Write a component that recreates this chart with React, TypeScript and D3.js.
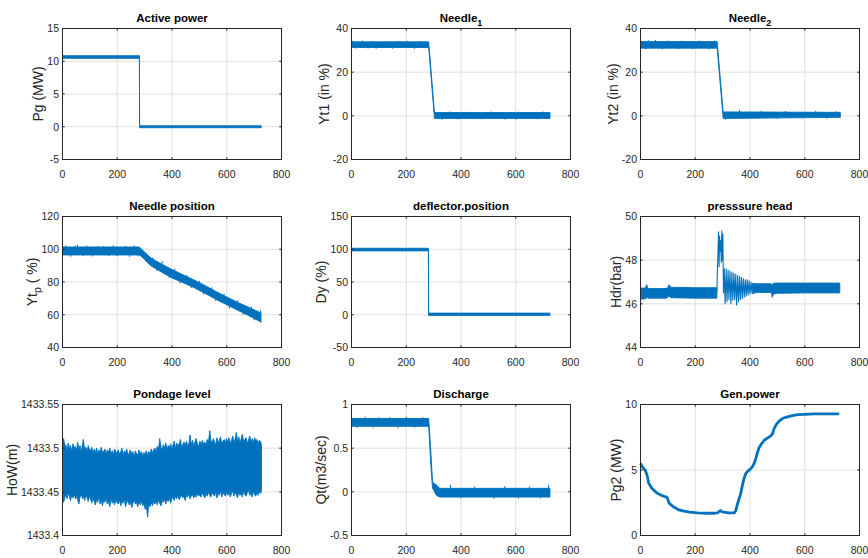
import React from 'react';
import * as d3 from 'd3';

const BLUE = '#0072BD';
const timeTicks = [0, 200, 400, 600, 800];

// Active power (MW)
const pgT = [0, 281, 281.6, 726];
const pgHi = [10.85, 10.85, 0.15, 0.15];
const pgLo = [10.45, 10.45, -0.15, -0.15];

// Needle 1 (%)
const yt1T = [0, 282, 303, 725];
const yt1Hi = [33.9, 33.9, 1.5, 1.5];
const yt1Lo = [31.3, 31.3, -1.2, -1.2];
const yt1UpT = [3, 40, 75, 120, 170, 205, 250, 360, 420, 510, 610, 700];
const yt1UpV = [34.4, 34.5, 34.3, 34.3, 34.4, 34.4, 34.3, 2.0, 1.9, 2.0, 1.9, 2.0];
const yt1DnT = [15, 60, 90, 150, 230, 270, 330, 390, 470, 560, 600, 680];
const yt1DnV = [30.8, 30.9, 30.7, 30.8, 30.7, 30.9, -1.8, -1.7, -1.6, -1.7, -1.7, -1.6];

// Needle 2 (%)
const yt2T = [0, 280, 302, 725, 730];
const yt2Hi = [34.0, 34.0, 1.8, 1.6, 1.6];
const yt2Lo = [31.0, 31.0, -1.2, -0.7, -0.7];
const yt2UpT = [30, 55, 100, 150, 215, 270, 362, 440, 530, 640, 715];
const yt2UpV = [34.6, 34.8, 34.5, 34.4, 34.5, 34.5, 2.8, 2.3, 2.2, 2.3, 2.1];
const yt2DnT = [20, 80, 140, 190, 250, 310, 380, 500, 590, 680];
const yt2DnV = [30.5, 30.4, 30.6, 30.5, 30.4, -1.8, -1.4, -1.4, -1.2, -1.3];

// Needle position (%)
const ytpT = [0, 280, 290, 321, 360, 400, 440, 479, 520, 564, 600, 642, 680, 721, 725];
const ytpHi = [101.4, 101.4, 99.9, 94.9, 91.1, 87.6, 84.4, 81.4, 77.9, 73.9, 70.9, 67.4, 64.6, 61.4, 61.6];
const ytpLo = [96.5, 96.5, 95.4, 90.1, 86.2, 82.5, 79.6, 76.7, 73.1, 69.1, 66.1, 62.6, 59.5, 55.9, 55.9];
const ytpUpT = [12, 48, 55, 88, 130, 150, 185, 230, 262, 330, 364, 410, 455, 500, 545, 590, 640, 690, 724];
const ytpUpV = [102.3, 102.0, 102.8, 102.2, 101.9, 102.0, 102.4, 102.1, 102.3, 95.0, 92.8, 88.0, 84.3, 80.8, 76.7, 72.9, 68.8, 65.0, 62.8];
const ytpDnT = [30, 75, 110, 170, 200, 245, 275, 345, 390, 430, 470, 515, 560, 610, 660, 700, 726];
const ytpDnV = [95.5, 95.8, 95.6, 95.9, 95.8, 95.4, 95.7, 86.6, 82.3, 79.2, 76.2, 72.4, 68.3, 64.0, 60.0, 56.6, 55.2];

// Deflector position (%)
const dyT = [0, 281, 281.6, 725];
const dyHi = [101.5, 101.5, 2.5, 2.5];
const dyLo = [97.5, 97.5, -1, -1];

// Pressure head (bar)
const hdrAT = [0, 18, 22, 28, 95, 100, 104, 110, 200, 279];
const hdrAHi = [46.72, 46.72, 46.88, 46.7, 46.7, 46.75, 46.88, 46.76, 46.74, 46.74];
const hdrALo = [46.22, 46.22, 46.3, 46.26, 46.26, 46.3, 46.35, 46.28, 46.26, 46.26];
const hdrOscT = [279, 281, 283, 285, 287, 289, 291, 293, 295, 297, 299, 301, 303, 306, 309, 313, 316, 320, 323, 327, 330, 334, 337, 341, 344, 348, 351, 355, 358, 362, 365, 369, 372, 376, 379, 383, 386, 390, 393, 397, 400, 404, 407, 411];
const hdrOscV = [46.5, 47.6, 48.3, 49.3, 47.7, 49.1, 48.4, 48.9, 47.9, 49.35, 48.0, 49.2, 46.5, 47.6, 46.0, 47.6, 46.1, 47.55, 46.2, 47.5, 46.0, 47.45, 46.15, 47.4, 46.2, 47.35, 45.95, 47.3, 46.1, 47.25, 46.2, 47.2, 46.25, 47.15, 46.3, 47.1, 46.35, 47.1, 46.4, 47.05, 46.45, 47.0, 46.5, 46.9];
const hdrBT = [410, 420, 478, 481, 486, 500, 600, 728];
const hdrBHi = [46.95, 46.92, 46.92, 46.85, 46.95, 46.95, 46.95, 46.95];
const hdrBLo = [46.45, 46.52, 46.52, 46.3, 46.45, 46.48, 46.5, 46.5];

// Pondage level (m): upper and lower envelope of the noisy trace
const howT = [
  0, 1, 4, 9, 12, 17, 21, 26, 29, 34, 38, 43, 47, 52, 55, 60, 64, 69, 73, 76, 81, 85, 90, 94, 98,
  103, 107, 111, 116, 120, 125, 128, 133, 137, 142, 146, 151, 155, 159, 164, 168, 173, 177, 182, 186, 190, 195, 199,
  204, 208, 213, 217, 222, 226, 230, 235, 239, 244, 248, 253, 257, 262, 266, 270, 275, 279, 284, 288, 293, 297,
  302, 306, 311, 315, 320, 324, 329, 333, 337, 342, 346, 351, 355, 360, 364, 368, 373, 377, 382, 386, 391, 395, 399,
  404, 408, 413, 417, 422, 426, 431, 435, 439, 444, 448, 453, 457, 462, 466, 470, 475, 479, 484, 488, 493, 497,
  502, 506, 511, 515, 520, 524, 529, 533, 538, 542, 546, 551, 555, 560, 564, 569, 573, 577, 582, 586, 591, 595, 599,
  604, 608, 613, 617, 622, 626, 630, 635, 639, 644, 648, 653, 657, 662, 666, 671, 675, 679, 684, 688, 693, 697, 702, 706, 710, 715, 719, 724, 727,
];
const howHi = [
  1433.495, 1433.509, 1433.511, 1433.501, 1433.504, 1433.497, 1433.506, 1433.499, 1433.503, 1433.496, 1433.505, 1433.500, 1433.502, 1433.497, 1433.507, 1433.499, 1433.503, 1433.496, 1433.504, 1433.510, 1433.498, 1433.501, 1433.496, 1433.503, 1433.499,
  1433.497, 1433.501, 1433.494, 1433.499, 1433.495, 1433.500, 1433.493, 1433.498, 1433.496, 1433.501, 1433.494, 1433.497, 1433.499, 1433.493, 1433.498, 1433.495, 1433.500, 1433.494, 1433.497, 1433.492, 1433.499, 1433.496, 1433.494,
  1433.498, 1433.493, 1433.496, 1433.500, 1433.492, 1433.497, 1433.494, 1433.499, 1433.491, 1433.495, 1433.498, 1433.493, 1433.496, 1433.490, 1433.497, 1433.494, 1433.492, 1433.498, 1433.493, 1433.496, 1433.491, 1433.495,
  1433.493, 1433.497, 1433.492, 1433.496, 1433.494, 1433.499, 1433.495, 1433.498, 1433.500, 1433.496, 1433.502, 1433.499, 1433.511, 1433.501, 1433.497, 1433.504, 1433.500, 1433.506, 1433.498, 1433.503, 1433.501, 1433.505, 1433.499,
  1433.504, 1433.508, 1433.500, 1433.506, 1433.502, 1433.505, 1433.510, 1433.501, 1433.504, 1433.507, 1433.503, 1433.508, 1433.502, 1433.506, 1433.515, 1433.504, 1433.509, 1433.503, 1433.507, 1433.511, 1433.505, 1433.502,
  1433.508, 1433.504, 1433.509, 1433.505, 1433.507, 1433.503, 1433.510, 1433.506, 1433.520, 1433.509, 1433.505, 1433.511, 1433.507, 1433.504, 1433.512, 1433.506, 1433.509, 1433.513, 1433.505, 1433.508, 1433.510, 1433.506, 1433.511,
  1433.507, 1433.512, 1433.505, 1433.509, 1433.514, 1433.506, 1433.510, 1433.518, 1433.508, 1433.513, 1433.506, 1433.511, 1433.516, 1433.507, 1433.510, 1433.512, 1433.505, 1433.509, 1433.514, 1433.507, 1433.511, 1433.506, 1433.512, 1433.508, 1433.510, 1433.505, 1433.509, 1433.507, 1433.503,
];
const howLo = [
  1433.455, 1433.441, 1433.438, 1433.444, 1433.447, 1433.442, 1433.449, 1433.444, 1433.440, 1433.446, 1433.443, 1433.448, 1433.442, 1433.445, 1433.441, 1433.436, 1433.444, 1433.447, 1433.442, 1433.445, 1433.440, 1433.446, 1433.443, 1433.439, 1433.445,
  1433.441, 1433.437, 1433.443, 1433.439, 1433.435, 1433.442, 1433.438, 1433.444, 1433.436, 1433.440, 1433.434, 1433.441, 1433.438, 1433.443, 1433.436, 1433.439, 1433.433, 1433.442, 1433.437, 1433.440, 1433.435, 1433.441, 1433.438,
  1433.436, 1433.441, 1433.434, 1433.439, 1433.437, 1433.442, 1433.433, 1433.438, 1433.440, 1433.435, 1433.439, 1433.432, 1433.437, 1433.441, 1433.436, 1433.438, 1433.433, 1433.439, 1433.435, 1433.440, 1433.434, 1433.437,
  1433.430, 1433.435, 1433.421, 1433.436, 1433.433, 1433.438, 1433.434, 1433.440, 1433.436, 1433.439, 1433.435, 1433.441, 1433.437, 1433.434, 1433.440, 1433.438, 1433.442, 1433.436, 1433.441, 1433.439, 1433.443, 1433.437, 1433.442,
  1433.444, 1433.440, 1433.445, 1433.442, 1433.446, 1433.441, 1433.444, 1433.447, 1433.443, 1433.445, 1433.440, 1433.446, 1433.444, 1433.448, 1433.442, 1433.445, 1433.447, 1433.443, 1433.446, 1433.444, 1433.448, 1433.445,
  1433.447, 1433.444, 1433.449, 1433.446, 1433.443, 1433.448, 1433.445, 1433.450, 1433.446, 1433.444, 1433.449, 1433.447, 1433.445, 1433.450, 1433.443, 1433.448, 1433.446, 1433.451, 1433.444, 1433.449, 1433.447, 1433.445, 1433.450,
  1433.446, 1433.450, 1433.444, 1433.448, 1433.451, 1433.445, 1433.449, 1433.447, 1433.443, 1433.450, 1433.446, 1433.448, 1433.444, 1433.451, 1433.447, 1433.445, 1433.449, 1433.452, 1433.446, 1433.448, 1433.444, 1433.450, 1433.447, 1433.445, 1433.449, 1433.446, 1433.451, 1433.448, 1433.452,
];

// Discharge (m3/sec)
const qtT = [0, 282, 290, 296, 300, 310, 322, 725];
const qtHi = [0.84, 0.84, 0.45, 0.12, 0.1, 0.08, 0.04, 0.04];
const qtLo = [0.75, 0.75, 0.3, 0.04, 0.02, -0.04, -0.06, -0.06];
const qtUpT = [50, 100, 140, 200, 260, 362, 450, 560, 650, 720];
const qtUpV = [0.86, 0.855, 0.855, 0.86, 0.855, 0.08, 0.06, 0.065, 0.06, 0.08];
const qtDnT = [20, 80, 170, 230, 400, 520, 610, 690];
const qtDnV = [0.73, 0.735, 0.73, 0.735, -0.075, -0.08, -0.075, -0.075];

// Gen. power (MW)
const genT = [0, 5, 18, 24, 30, 40, 49, 60, 73, 85, 92, 97, 100, 104, 110, 120, 128, 140, 159, 180, 208, 240, 270, 281, 288, 293, 298, 305, 320, 342, 348, 354, 360, 366, 372, 378, 385, 391, 400, 409, 415, 421, 427, 433, 442, 452, 465, 476, 482, 488, 497, 507, 520, 537, 555, 574, 600, 635, 680, 726];
const genV = [5.5, 5.3, 4.95, 4.6, 4.0, 3.65, 3.45, 3.25, 3.1, 3.0, 2.95, 2.9, 2.75, 2.5, 2.35, 2.2, 2.1, 1.95, 1.86, 1.78, 1.72, 1.7, 1.7, 1.72, 1.85, 1.9, 1.8, 1.78, 1.72, 1.72, 1.9, 2.4, 2.8, 3.2, 3.8, 4.35, 4.75, 4.9, 5.05, 5.25, 5.5, 5.87, 6.3, 6.7, 7.0, 7.27, 7.45, 7.6, 7.75, 8.16, 8.5, 8.75, 8.95, 9.06, 9.15, 9.22, 9.25, 9.28, 9.28, 9.28];

type Band = { t: number[]; hi: number[]; lo: number[] };
type Line = { t: number[]; v: number[]; w: number };
type Spikes = { t: number[]; v: number[]; band: Band; up: boolean };
type Panel = {
  title: string; titleSub?: string;
  ylabel: string; ylabelSub?: string; ylabelRest?: string;
  yDomain: [number, number]; yTicks: number[]; yTickLabels: string[];
  bands: Band[]; lines: Line[]; spikes: Spikes[];
};

const pgBand = { t: pgT, hi: pgHi, lo: pgLo };
const yt1Band = { t: yt1T, hi: yt1Hi, lo: yt1Lo };
const yt2Band = { t: yt2T, hi: yt2Hi, lo: yt2Lo };
const ytpBand = { t: ytpT, hi: ytpHi, lo: ytpLo };
const dyBand = { t: dyT, hi: dyHi, lo: dyLo };
const howBand = { t: howT, hi: howHi, lo: howLo };
const qtBand = { t: qtT, hi: qtHi, lo: qtLo };

const panels: Panel[] = [
  { title: 'Active power', ylabel: 'Pg (MW)', yDomain: [-5, 15], yTicks: [-5, 0, 5, 10, 15], yTickLabels: ['-5', '0', '5', '10', '15'],
    bands: [pgBand], lines: [], spikes: [] },
  { title: 'Needle', titleSub: '1', ylabel: 'Yt1 (in %)', yDomain: [-20, 40], yTicks: [-20, 0, 20, 40], yTickLabels: ['-20', '0', '20', '40'],
    bands: [yt1Band], lines: [], spikes: [{ t: yt1UpT, v: yt1UpV, band: yt1Band, up: true }, { t: yt1DnT, v: yt1DnV, band: yt1Band, up: false }] },
  { title: 'Needle', titleSub: '2', ylabel: 'Yt2 (in %)', yDomain: [-20, 40], yTicks: [-20, 0, 20, 40], yTickLabels: ['-20', '0', '20', '40'],
    bands: [yt2Band], lines: [], spikes: [{ t: yt2UpT, v: yt2UpV, band: yt2Band, up: true }, { t: yt2DnT, v: yt2DnV, band: yt2Band, up: false }] },
  { title: 'Needle position', ylabel: 'Yt', ylabelSub: 'p', ylabelRest: ' ( %)', yDomain: [40, 120], yTicks: [40, 60, 80, 100, 120], yTickLabels: ['40', '60', '80', '100', '120'],
    bands: [ytpBand], lines: [], spikes: [{ t: ytpUpT, v: ytpUpV, band: ytpBand, up: true }, { t: ytpDnT, v: ytpDnV, band: ytpBand, up: false }] },
  { title: 'deflector.position', ylabel: 'Dy (%)', yDomain: [-50, 150], yTicks: [-50, 0, 50, 100, 150], yTickLabels: ['-50', '0', '50', '100', '150'],
    bands: [dyBand], lines: [], spikes: [] },
  { title: 'presssure head', ylabel: 'Hdr(bar)', yDomain: [44, 50], yTicks: [44, 46, 48, 50], yTickLabels: ['44', '46', '48', '50'],
    bands: [{ t: hdrAT, hi: hdrAHi, lo: hdrALo }, { t: hdrBT, hi: hdrBHi, lo: hdrBLo }], lines: [{ t: hdrOscT, v: hdrOscV, w: 1.1 }], spikes: [] },
  { title: 'Pondage level', ylabel: 'HoW(m)', yDomain: [1433.4, 1433.55], yTicks: [1433.4, 1433.45, 1433.5, 1433.55], yTickLabels: ['1433.4', '1433.45', '1433.5', '1433.55'],
    bands: [howBand], lines: [], spikes: [] },
  { title: 'Discharge', ylabel: 'Qt(m3/sec)', yDomain: [-0.5, 1], yTicks: [-0.5, 0, 0.5, 1], yTickLabels: ['-0.5', '0', '0.5', '1'],
    bands: [qtBand], lines: [], spikes: [{ t: qtUpT, v: qtUpV, band: qtBand, up: true }, { t: qtDnT, v: qtDnV, band: qtBand, up: false }] },
  { title: 'Gen.power', ylabel: 'Pg2 (MW)', yDomain: [0, 10], yTicks: [0, 5, 10], yTickLabels: ['0', '5', '10'],
    bands: [], lines: [{ t: genT, v: genV, w: 2.8 }], spikes: [] },
];

const colX = [62.5, 351.5, 640.5];
const rowY = [28.5, 216.5, 404.5];
const PW = 219;
const PH = 131;
const FONT = '"Liberation Sans", Arial, Helvetica, sans-serif';
const TICK_FS = 10.5;
const AXC = '#262626';

function textW(s: string, fs: number) {
  let w = 0;
  for (const c of s) w += c === '.' ? 0.278 : c === '-' ? 0.333 : 0.556;
  return w * fs;
}

function PanelView({ p, x0, y0 }: { p: Panel; x0: number; y0: number }) {
  const x = d3.scaleLinear().domain([0, 800]).range([x0, x0 + PW]);
  const y = d3.scaleLinear().domain(p.yDomain).range([y0 + PH, y0]);
  const maxW = Math.max(...p.yTickLabels.map((s) => textW(s, TICK_FS)));
  const labelX = x0 - 3 - maxW - 9.5;
  const cy = y0 + PH / 2;
  return (
    <g>
      {timeTicks.slice(1, -1).map((t) => (
        <line key={'gx' + t} x1={x(t)} x2={x(t)} y1={y0} y2={y0 + PH} stroke="#e0e0e0" strokeWidth={1} />
      ))}
      {p.yTicks.slice(1, -1).map((v) => (
        <line key={'gy' + v} x1={x0} x2={x0 + PW} y1={y(v)} y2={y(v)} stroke="#e0e0e0" strokeWidth={1} />
      ))}
      {p.bands.map((b, bi) => {
        const idx = b.t.map((_, i) => i);
        const a = d3.area<number>().x((i) => x(b.t[i])).y0((i) => y(b.lo[i])).y1((i) => y(b.hi[i]));
        return <path key={'b' + bi} d={a(idx) || ''} fill={BLUE} stroke={BLUE} strokeWidth={0.9} strokeLinejoin="miter" />;
      })}
      {p.spikes.map((s, si) => {
        const edge = d3.scaleLinear().domain(s.band.t).range(s.up ? s.band.hi : s.band.lo).clamp(true);
        return (
          <g key={'s' + si}>
            {s.t.map((t, i) => (
              <line key={i} x1={x(t)} x2={x(t)} y1={y(edge(t))} y2={y(s.v[i])} stroke={BLUE} strokeWidth={1} />
            ))}
          </g>
        );
      })}
      {p.lines.map((l, li) => {
        const idx = l.t.map((_, i) => i);
        const ln = d3.line<number>().x((i) => x(l.t[i])).y((i) => y(l.v[i]));
        return <path key={'l' + li} d={ln(idx) || ''} fill="none" stroke={BLUE} strokeWidth={l.w} strokeLinejoin="round" />;
      })}
      <rect x={x0} y={y0} width={PW} height={PH} fill="none" stroke={AXC} strokeWidth={1} />
      {timeTicks.map((t) => (
        <g key={'xt' + t}>
          <line x1={x(t)} x2={x(t)} y1={y0 + PH} y2={y0 + PH - 2.2} stroke={AXC} />
          <line x1={x(t)} x2={x(t)} y1={y0} y2={y0 + 2.2} stroke={AXC} />
          <text x={x(t)} y={y0 + PH + 18} textAnchor="middle" fontSize={TICK_FS} fill={AXC} fontFamily={FONT}>{t}</text>
        </g>
      ))}
      {p.yTicks.map((v, i) => (
        <g key={'yt' + v}>
          <line x1={x0} x2={x0 + 2.2} y1={y(v)} y2={y(v)} stroke={AXC} />
          <line x1={x0 + PW} x2={x0 + PW - 2.2} y1={y(v)} y2={y(v)} stroke={AXC} />
          <text x={x0 - 3.5} y={y(v)} dy="0.36em" textAnchor="end" fontSize={TICK_FS} fill={AXC} fontFamily={FONT}>{p.yTickLabels[i]}</text>
        </g>
      ))}
      <text x={x0 + PW / 2} y={y0 - 7} textAnchor="middle" fontSize={11.5} fontWeight="bold" fill="#000" fontFamily={FONT}>
        {p.title}
        {p.titleSub ? <tspan fontSize={9} dy={4}>{p.titleSub}</tspan> : null}
      </text>
      <text transform={`translate(${labelX},${cy}) rotate(-90)`} dy="0.35em" textAnchor="middle" fontSize={14} fill={AXC} fontFamily={FONT}>
        {p.ylabel}
        {p.ylabelSub ? <tspan fontSize={10.5} dy={4}>{p.ylabelSub}</tspan> : null}
        {p.ylabelRest ? <tspan dy={-4}>{p.ylabelRest}</tspan> : null}
      </text>
    </g>
  );
}

export default function App() {
  return (
    <svg width={868} height={558} style={{ position: 'absolute', left: 0, top: 0, background: '#fff' }}>
      <rect x={0} y={0} width={868} height={558} fill="#fff" />
      {panels.map((p, i) => (
        <PanelView key={i} p={p} x0={colX[i % 3]} y0={rowY[Math.floor(i / 3)]} />
      ))}
    </svg>
  );
}
